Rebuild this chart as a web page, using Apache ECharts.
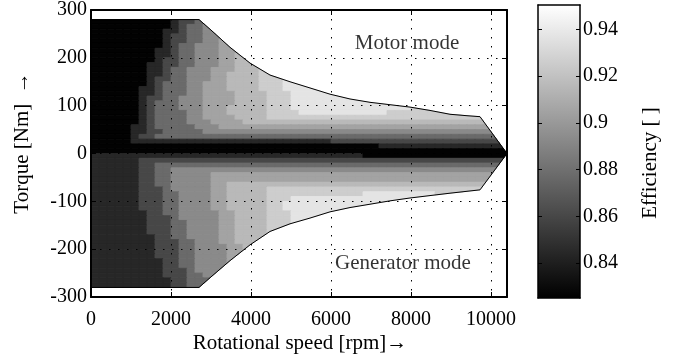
<!DOCTYPE html>
<html><head><meta charset="utf-8">
<script src="https://cdn.jsdelivr.net/npm/echarts@6/dist/echarts.min.js"></script>
<style>html,body{margin:0;padding:0;background:#fff}#c{width:679px;height:362px}</style>
</head><body><div id="c"></div>
<script>
// Efficiency value of each gray level code used in the map rows
const levelEff = [0.826, 0.844, 0.860, 0.877, 0.893, 0.905, 0.916, 0.926, 0.937];
const cellSpeed = 200;   // rpm per map column
const cellTorque = 10;   // Nm per map row
const motorTopTorque = 280;
// Motor mode rows, from 280 Nm down to 0 Nm, run-length "level:count" per 200 rpm column
const motorRows = [
  "0:10 1:1 2:2 3:20",
  "0:10 1:1 2:1 3:2 4:20",
  "0:9 1:2 2:1 3:2 4:20",
  "0:9 1:1 2:2 3:2 4:20",
  "0:9 1:1 2:2 3:2 4:2 5:20",
  "0:9 1:1 2:1 3:2 4:3 5:20",
  "0:8 1:2 2:1 3:2 4:3 5:20",
  "0:8 1:2 2:1 3:2 4:3 5:2 6:20",
  "0:8 1:1 2:2 3:2 4:3 5:2 6:20",
  "0:7 1:2 2:2 3:2 4:3 5:2 6:20",
  "0:7 1:2 2:1 3:2 4:3 5:3 6:3 7:20",
  "0:7 1:2 2:1 3:2 4:3 5:2 6:4 7:3 8:30",
  "0:7 1:1 2:2 3:2 4:3 5:2 6:4 7:3 8:30",
  "0:7 1:1 2:1 3:3 4:2 5:3 6:4 7:3 8:30",
  "0:6 1:2 2:1 3:3 4:2 5:3 6:4 7:3 8:30",
  "0:6 1:2 2:1 3:3 4:2 5:4 6:4 7:3 8:30",
  "0:6 1:1 2:2 3:2 4:3 5:4 6:4 7:3 8:30",
  "0:6 1:1 2:1 3:3 4:3 5:4 6:4 7:3 8:30",
  "0:6 1:1 2:1 3:3 4:3 5:3 6:5 7:3 8:15 7:20",
  "0:6 1:1 2:1 3:4 4:2 5:3 6:5 7:4 8:11 7:20",
  "0:6 1:1 2:1 3:4 4:2 5:4 6:4 7:40",
  "0:6 1:1 2:1 3:4 4:3 5:4 6:40",
  "0:5 1:2 2:1 3:5 4:3 5:40",
  "0:5 1:2 2:2 3:5 4:40",
  "0:5 1:1 2:2 3:50",
  "0:5 1:25 2:30",
  "0:36 1:20",
  "0:60"
];
// Generator mode rows, from 0 Nm down to -280 Nm
const generatorRows = [
  "1:34 0:30",
  "1:6 2:50",
  "1:6 2:2 3:50",
  "1:6 2:2 3:2 4:50",
  "1:6 2:2 3:2 4:5 5:50",
  "1:6 2:2 3:2 4:5 5:50",
  "1:6 2:2 3:2 4:5 5:2 6:50",
  "1:6 2:3 3:1 4:5 5:2 6:5 7:50",
  "1:6 2:3 3:2 4:4 5:2 6:5 7:12 8:9 7:10",
  "1:6 2:3 3:2 4:4 5:2 6:5 7:3 8:30",
  "1:6 2:3 3:2 4:4 5:2 6:5 7:2 8:30",
  "1:6 2:3 3:2 4:4 5:2 6:5 7:2 8:30",
  "1:7 2:2 3:2 4:5 5:2 6:4 7:3 8:30",
  "1:7 2:3 3:1 4:5 5:2 6:4 7:3 8:30",
  "1:7 2:3 3:2 4:4 5:2 6:4 7:3 8:30",
  "1:7 2:3 3:2 4:4 5:2 6:4 7:3 8:30",
  "1:7 2:3 3:2 4:4 5:2 6:4 7:3 8:30",
  "1:8 2:2 3:2 4:4 5:2 6:4 7:3 8:30",
  "1:8 2:3 3:2 4:3 5:2 6:10",
  "1:8 2:3 3:2 4:4 5:2 6:10",
  "1:8 2:3 3:2 4:4 5:2 6:10",
  "1:8 2:3 3:2 4:4 5:2 6:10",
  "1:9 2:2 3:2 4:4 5:10",
  "1:9 2:2 3:2 4:10",
  "1:9 2:3 3:1 4:10",
  "1:9 2:3 3:2 4:10",
  "1:10 2:2 3:10",
  "1:10 2:2 3:10"
];
// Torque-speed envelopes
const motorEnvSpeed  = [0, 2700, 3000, 3475, 3975, 4475, 4975, 5475, 5975, 6475, 6975, 7475, 7975, 8475, 8975, 9400, 9725, 10400];
const motorEnvTorque = [280, 280, 258, 222, 189, 164, 150, 137, 124, 114, 107, 102, 97, 90, 82, 79, 77, 0];
const genEnvSpeed    = [0, 2700, 3000, 3475, 3975, 4475, 4975, 5475, 5975, 6475, 6975, 7475, 7975, 8475, 8975, 9400, 9725, 10400];
const genEnvTorque   = [-280, -280, -258, -224, -191, -163, -147, -135, -122, -113, -106, -99, -93, -88, -83, -79, -76, 0];
const speedRange = [0, 10400];
const torqueRange = [-300, 300];
const cbTicks = [0.84, 0.86, 0.88, 0.9, 0.92, 0.94];
const effRange = [0.825, 0.9505];
const annotations = [[7900, 230, 'Motor mode'], [7800, -229, 'Generator mode']];

const FONT = "'Liberation Serif', 'Times New Roman', serif";

function expand(rle) {
  const out = [];
  rle.split(' ').forEach(p => { const [l, n] = p.split(':'); for (let i = 0; i < +n; i++) out.push(+l); });
  return out;
}
const mapData = [];
motorRows.forEach((row, r) => {
  const t1 = motorTopTorque - r * cellTorque, t0 = t1 - cellTorque;
  expand(row).forEach((lv, c) => { if (c * cellSpeed < speedRange[1]) mapData.push([c * cellSpeed, (c + 1) * cellSpeed, t0, t1, levelEff[lv]]); });
});
generatorRows.forEach((row, k) => {
  const t1 = -k * cellTorque, t0 = t1 - cellTorque;
  expand(row).forEach((lv, c) => { if (c * cellSpeed < speedRange[1]) mapData.push([c * cellSpeed, (c + 1) * cellSpeed, t0, t1, levelEff[lv]]); });
});

function envAt(S, T, s) {
  if (s <= S[0]) return T[0];
  for (let i = 1; i < S.length; i++) {
    if (s <= S[i]) return T[i - 1] + (T[i] - T[i - 1]) * (s - S[i - 1]) / (S[i] - S[i - 1]);
  }
  return T[T.length - 1];
}
// first speed at which the (monotone) envelope reaches the given torque
function crossAt(S, T, target) {
  for (let i = 1; i < S.length; i++) {
    const a = T[i - 1] - target, b = T[i] - target;
    if (a === 0 && i === 1 && b === 0) continue;
    if ((a > 0 && b <= 0) || (a < 0 && b >= 0)) {
      return S[i - 1] + (target - T[i - 1]) / (T[i] - T[i - 1]) * (S[i] - S[i - 1]);
    }
  }
  return S[S.length - 1];
}

function renderCell(params, api) {
  const s0 = api.value(0), s1 = api.value(1), t0 = api.value(2), t1 = api.value(3);
  const motor = t0 >= 0;
  const S = motor ? motorEnvSpeed : genEnvSpeed;
  const T = motor ? motorEnvTorque : genEnvTorque;
  const base = motor ? t0 : t1;     // edge nearest zero torque
  const far = motor ? t1 : t0;      // edge farthest from zero torque
  const sEnd = Math.min(s1, crossAt(S, T, base));
  if (sEnd <= s0 + 1e-6) return null;
  const xs = [s0];
  const sFar = crossAt(S, T, far);
  S.forEach(s => { if (s > s0 && s < sEnd) xs.push(s); });
  if (sFar > s0 && sFar < sEnd) xs.push(sFar);
  xs.push(sEnd);
  xs.sort((a, b) => a - b);
  const edge = xs.map(s => {
    const e = envAt(S, T, s);
    return motor ? Math.max(t0, Math.min(t1, e)) : Math.min(t1, Math.max(t0, e));
  });
  const pts = [api.coord([s0, base]), api.coord([sEnd, base])];
  for (let i = xs.length - 1; i >= 0; i--) pts.push(api.coord([xs[i], edge[i]]));
  const color = api.visual('color');
  return { type: 'polygon', shape: { points: pts }, style: { fill: color, stroke: color, lineWidth: 0.9 } };
}

const chart = echarts.init(document.getElementById('c'), null, { renderer: 'canvas', width: 679, height: 362 });
const tickLbl = { color: '#000', fontFamily: FONT, fontSize: 20 };
const blackLine = { color: '#000', width: 2 };

chart.setOption({
  animation: false,
  backgroundColor: '#fff',
  grid: [
    { left: 91, top: 6, width: 416, height: 291 },
    { left: 538, top: 5, width: 42, height: 293 }
  ],
  xAxis: [
    { gridIndex: 0, type: 'value', min: speedRange[0], max: speedRange[1], interval: 2000, position: 'bottom', z: 10,
      axisLine: { show: true, onZero: false, lineStyle: blackLine },
      axisTick: { show: true, inside: true, length: 5, lineStyle: { color: '#000', width: 1 } },
      axisLabel: Object.assign({ margin: 13, showMaxLabel: false, formatter: v => String(v) }, tickLbl),
      splitLine: { show: true, lineStyle: { color: '#000', width: 1, type: [1.5, 7.5] } } },
    { gridIndex: 0, type: 'value', min: speedRange[0], max: speedRange[1], interval: 2000, position: 'top', z: 10,
      axisLine: { show: true, onZero: false, lineStyle: blackLine },
      axisTick: { show: true, inside: true, length: 5, lineStyle: { color: '#000', width: 1 } },
      axisLabel: { show: false }, splitLine: { show: false } },
    { gridIndex: 1, type: 'value', min: 0, max: 1, position: 'bottom', z: 10,
      axisLine: { show: true, onZero: false, lineStyle: { color: '#000', width: 1.5 } },
      axisTick: { show: false }, axisLabel: { show: false }, splitLine: { show: false } },
    { gridIndex: 1, type: 'value', min: 0, max: 1, position: 'top', z: 10,
      axisLine: { show: true, onZero: false, lineStyle: { color: '#000', width: 1.5 } },
      axisTick: { show: false }, axisLabel: { show: false }, splitLine: { show: false } }
  ],
  yAxis: [
    { gridIndex: 0, type: 'value', min: torqueRange[0], max: torqueRange[1], interval: 100, position: 'left', z: 10,
      axisLine: { show: true, onZero: false, lineStyle: blackLine },
      axisTick: { show: true, inside: true, length: 5, lineStyle: { color: '#000', width: 1 } },
      axisLabel: Object.assign({ margin: 4 }, tickLbl),
      splitLine: { show: true, lineStyle: { color: '#000', width: 1, type: [1.5, 7.5] } } },
    { gridIndex: 0, type: 'value', min: torqueRange[0], max: torqueRange[1], interval: 100, position: 'right', z: 10,
      axisLine: { show: true, onZero: false, lineStyle: blackLine },
      axisTick: { show: true, inside: true, length: 5, lineStyle: { color: '#000', width: 1 } },
      axisLabel: { show: false }, splitLine: { show: false } },
    { gridIndex: 1, type: 'value', min: effRange[0], max: effRange[1], position: 'right', z: 10,
      axisLine: { show: true, onZero: false, lineStyle: { color: '#000', width: 1.5 } },
      axisTick: { show: true, inside: true, length: 4, customValues: cbTicks, lineStyle: { color: '#000', width: 1 } },
      axisLabel: Object.assign({ margin: 3, customValues: cbTicks, formatter: v => String(v) }, tickLbl),
      splitLine: { show: false } },
    { gridIndex: 1, type: 'value', min: effRange[0], max: effRange[1], position: 'left', z: 10,
      axisLine: { show: true, onZero: false, lineStyle: { color: '#000', width: 1.5 } },
      axisTick: { show: true, inside: true, length: 4, customValues: cbTicks, lineStyle: { color: '#000', width: 1 } },
      axisLabel: { show: false }, splitLine: { show: false } }
  ],
  visualMap: [{
    type: 'continuous', show: false, seriesIndex: 0, dimension: 4,
    min: effRange[0], max: effRange[1], inRange: { color: ['#000000', '#ffffff'] }
  }],
  series: [
    { type: 'custom', xAxisIndex: 0, yAxisIndex: 0, data: mapData, encode: { x: [0, 1], y: [2, 3] },
      renderItem: renderCell, clip: true, silent: true, z: 2, progressive: 0 },
    { type: 'line', xAxisIndex: 0, yAxisIndex: 0, data: motorEnvSpeed.map((s, i) => [s, motorEnvTorque[i]]),
      symbol: 'none', lineStyle: { color: '#000', width: 1 }, silent: true, z: 3 },
    { type: 'line', xAxisIndex: 0, yAxisIndex: 0, data: genEnvSpeed.map((s, i) => [s, genEnvTorque[i]]),
      symbol: 'none', lineStyle: { color: '#000', width: 1 }, silent: true, z: 3 },
    { type: 'scatter', xAxisIndex: 0, yAxisIndex: 0, symbolSize: 0, silent: true, z: 4,
      data: annotations.map(a => ({ value: [a[0], a[1]], name: a[2] })),
      label: { show: true, position: 'inside', formatter: p => p.name, color: '#000', fontFamily: FONT, fontSize: 21 } },
    { type: 'custom', xAxisIndex: 2, yAxisIndex: 2, data: [[0, 1, effRange[0], effRange[1]]], silent: true, z: 2,
      encode: { x: [0, 1], y: [2, 3] },
      renderItem: (p, api) => {
        const a = api.coord([api.value(0), api.value(3)]);
        const b = api.coord([api.value(1), api.value(2)]);
        return { type: 'rect', shape: { x: a[0], y: a[1], width: b[0] - a[0], height: b[1] - a[1] },
          style: { fill: new echarts.graphic.LinearGradient(0, 0, 0, 1, [{ offset: 0, color: '#ffffff' }, { offset: 1, color: '#000000' }]) } };
      } }
  ],
  graphic: [
    { type: 'text', x: 22, y: 143, rotation: Math.PI / 2, silent: true,
      style: { text: 'Torque [Nm]  \u2192', fontFamily: FONT, fontSize: 21, fill: '#000', align: 'center', verticalAlign: 'middle' } },
    { type: 'text', x: 300, y: 343, silent: true,
      style: { text: 'Rotational speed [rpm]\u2192', fontFamily: FONT, fontSize: 21, fill: '#000', align: 'center', verticalAlign: 'middle' } },
    { type: 'text', x: 650, y: 163, rotation: Math.PI / 2, silent: true,
      style: { text: 'Efficiency [ ]', fontFamily: FONT, fontSize: 21, fill: '#000', align: 'center', verticalAlign: 'middle' } }
  ]
});
</script>
</body></html>
